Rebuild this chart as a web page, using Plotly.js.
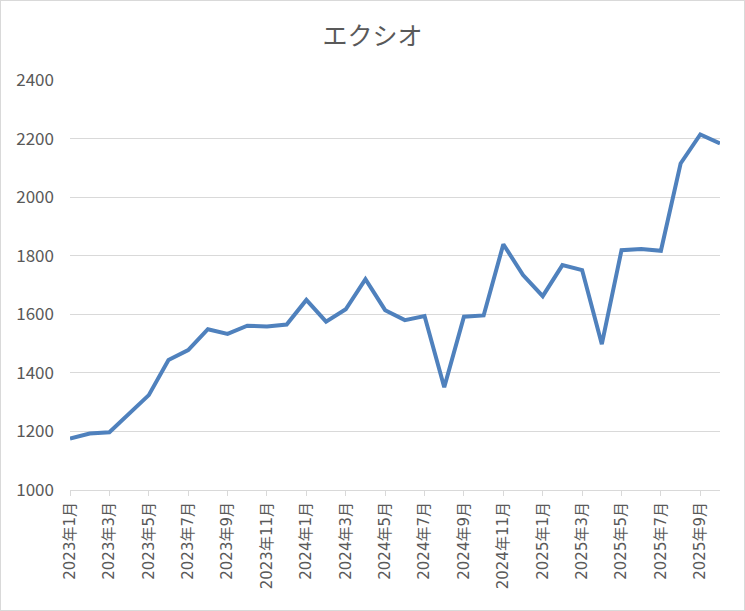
<!DOCTYPE html>
<html>
<head>
<meta charset="utf-8">
<script src="https://cdn.plot.ly/plotly-3.0.1.min.js"></script>
<style>
  html, body { margin: 0; padding: 0; background: #fff; }
  #frame { width: 745px; height: 611px; box-sizing: border-box; border: 1px solid #d9d9d9; }
  #chart { width: 743px; height: 609px; }
</style>
</head>
<body>
<div id="frame"><div id="chart"></div></div>
<script>
const months = [
  "2023年1月","2023年2月","2023年3月","2023年4月","2023年5月","2023年6月",
  "2023年7月","2023年8月","2023年9月","2023年10月","2023年11月","2023年12月",
  "2024年1月","2024年2月","2024年3月","2024年4月","2024年5月","2024年6月",
  "2024年7月","2024年8月","2024年9月","2024年10月","2024年11月","2024年12月",
  "2025年1月","2025年2月","2025年3月","2025年4月","2025年5月","2025年6月",
  "2025年7月","2025年8月","2025年9月","2025年10月"
];
const prices = [
  1176, 1193, 1197, 1259, 1324, 1444, 1478, 1549, 1533, 1561, 1558, 1565,
  1649, 1575, 1617, 1720, 1614, 1580, 1594, 1351, 1592, 1596, 1839, 1734,
  1662, 1768, 1751, 1498, 1819, 1823, 1817, 2115, 2214, 2183
];
const chartTitle = "エクシオ";
const yTicks = [1000, 1200, 1400, 1600, 1800, 2000, 2200, 2400];

const fontFam = '"Noto Sans CJK JP", "Noto Sans", sans-serif';
const xFontFam = '"DejaVu Sans", "Noto Sans CJK JP", sans-serif';
const grey = '#595959';

Plotly.newPlot('chart', [{
  type: 'scatter',
  mode: 'lines',
  x: months,
  y: prices,
  line: { color: '#4f81bd', width: 4 },
  hoverinfo: 'x+y'
}], {
  width: 743,
  height: 609,
  margin: { l: 69, r: 24, t: 79, b: 120 },
  paper_bgcolor: '#ffffff',
  plot_bgcolor: '#ffffff',
  showlegend: false,
  font: { family: fontFam, color: grey },
  title: {
    text: chartTitle,
    font: { family: fontFam, size: 25, color: grey },
    x: 0.5, xanchor: 'center',
    yref: 'container', y: 1 - 35 / 609, yanchor: 'middle'
  },
  xaxis: {
    type: 'category',
    range: [0, months.length - 1],
    tickmode: 'linear', tick0: 0, dtick: 2,
    tickangle: -90,
    ticks: 'outside', ticklen: 5, tickcolor: '#d9d9d9', tickwidth: 1,
    showline: true, linecolor: '#d9d9d9', linewidth: 1,
    showgrid: false, zeroline: false,
    tickfont: { family: xFontFam, size: 15, color: grey },
    fixedrange: true
  },
  yaxis: {
    range: [1000, 2400],
    tickmode: 'array', tickvals: yTicks, ticktext: yTicks.map(String),
    showgrid: true, gridcolor: '#d9d9d9', gridwidth: 1,
    showline: false, zeroline: false, ticks: '',
    ticklabelstandoff: 15,
    tickfont: { family: fontFam, size: 17, color: grey },
    fixedrange: true
  }
}, { displayModeBar: false, staticPlot: true });
</script>
</body>
</html>
